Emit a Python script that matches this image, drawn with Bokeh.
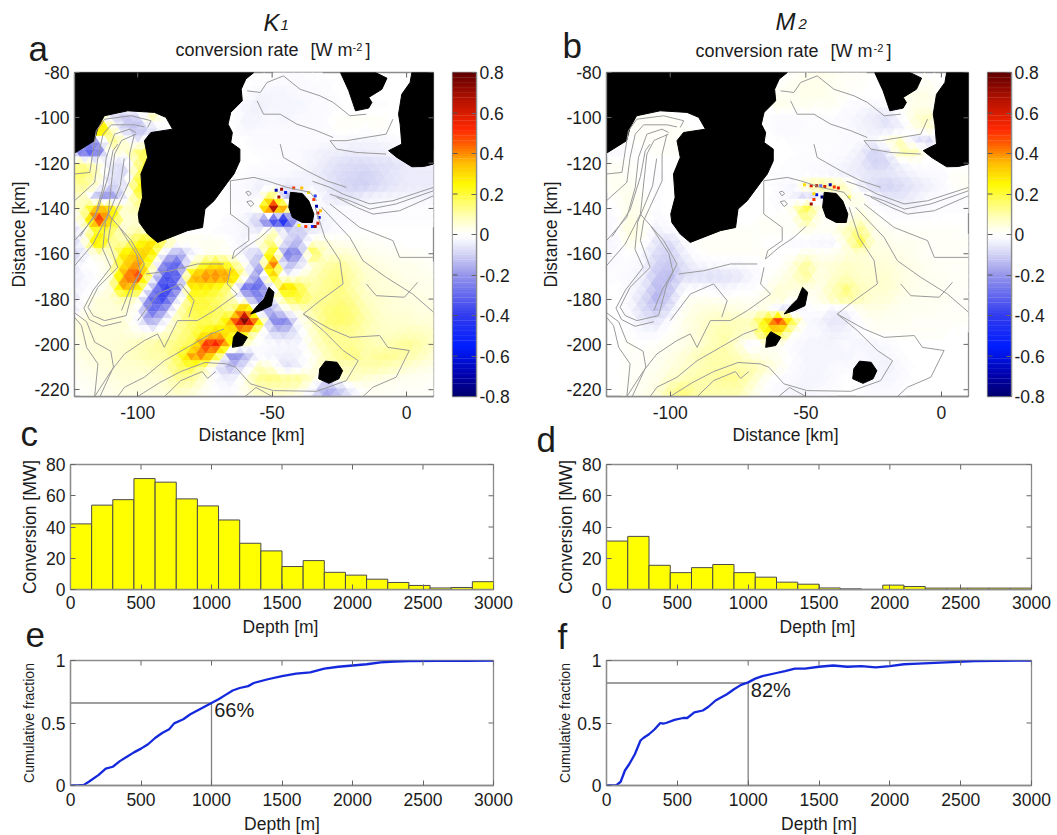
from bokeh.plotting import figure
from bokeh.layouts import column, row
from bokeh.models import ColumnDataSource, Range1d, FixedTicker
from bokeh.core.properties import value
from bokeh.embed import file_html
from bokeh.resources import INLINE
import numpy as np

FONT = "Liberation Sans"
GRAY = "#8c8c8c"
TXT = "#1c1c1c"
BASELINE_SHIFT = 0.35  # the SVG text sits this fraction of its size below the asked baseline

# ---------- histogram data ----------
bin_edges = [0, 150, 300, 450, 600, 750, 900, 1050, 1200, 1350, 1500, 1650, 1800, 1950, 2100, 2250, 2400, 2550, 2700, 2850, 3000]
k1_conv = [42, 54, 57.5, 71, 68.7, 58, 53.5, 44.5, 29.6, 24.7, 14.7, 18.5, 11, 9.2, 6.6, 4.5, 2.6, 1, 1.3, 5]
m2_conv = [31, 34, 15.5, 10.8, 14, 16, 10.8, 7.9, 4.7, 3.4, 1, 0.4, 0, 2.8, 1.9, 0.9, 0.9, 0.9, 0.9, 0.9]

# ---------- cumulative curves ----------
k1_depth = [0, 50, 95, 130, 200, 250, 300, 350, 400, 450, 500, 550, 600, 650, 700, 735, 800, 850, 900, 950, 1000, 1050, 1100, 1150, 1200, 1260, 1300, 1400, 1500, 1600, 1700, 1800, 1900, 2000, 2100, 2200, 2300, 2400, 2600, 2800, 3000]
k1_cum = [0, .001, .005, .03, .085, .135, .15, .195, .23, .265, .295, .33, .38, .42, .45, .497, .53, .57, .60, .63, .66, .69, .725, .76, .78, .795, .82, .85, .875, .895, .905, .935, .95, .96, .97, .985, .992, .996, .997, .998, 1]
m2_depth = [0, 70, 100, 130, 160, 200, 240, 260, 300, 340, 380, 400, 420, 480, 540, 570, 620, 680, 720, 770, 850, 900, 950, 1000, 1050, 1100, 1200, 1260, 1330, 1400, 1500, 1600, 1700, 1800, 1900, 2000, 2100, 2200, 2400, 2600, 3000]
m2_cum = [0, .003, .03, .12, .17, .25, .36, .38, .41, .45, .50, .495, .50, .525, .54, .54, .585, .60, .63, .68, .73, .77, .805, .825, .855, .875, .90, .915, .935, .935, .95, .96, .95, .955, .945, .955, .97, .975, .985, .995, 1]

# ---------- map fields, hundredths of W m-2 on a 5 km grid ----------
grid_x = list(range(-125, 15, 5))
grid_y = list(range(-80, -230, -5))
k1_field = [
[0,0,0,0,0,0,0,0,0,0,0,0,0,0,0,0,-1,-1,-1,0,0,0,0,0,0,0,0,0],
[0,0,0,0,0,0,0,0,0,0,0,0,0,0,-1,-2,-2,-2,-1,-1,0,0,0,0,0,0,0,0],
[0,0,0,0,0,0,0,0,0,0,0,0,0,-1,-3,-3,-3,-2,-2,-1,0,0,0,0,0,0,0,0],
[0,0,0,0,0,0,0,0,0,0,0,0,0,-3,-4,-3,-3,-3,-2,-2,-1,0,-1,-1,0,0,0,0],
[0,0,18,-6,-12,-10,10,0,0,0,0,0,0,-3,-3,-2,-3,-2,-2,-1,1,1,1,1,0,0,0,0],
[0,0,55,10,-10,-14,-10,0,0,0,0,0,0,-3,-2,-2,-2,-2,-2,-1,1,1,0,1,0,0,0,0],
[0,-18,-18,14,5,-6,4,0,0,0,0,0,0,0,-2,-2,-2,-2,-1,-2,-2,-3,-3,-3,-2,0,0,0],
[-6,-32,-30,5,5,14,20,0,0,0,0,0,0,0,-1,-1,-2,-2,-3,-4,-4,-5,-4,-4,-3,0,0,0],
[10,12,6,-5,-8,12,24,0,0,0,0,0,0,0,0,-1,-1,-2,-3,-5,-7,-8,-8,-7,-7,-5,-4,-4],
[14,16,8,-6,-8,15,25,0,0,0,0,0,0,-1,-2,-2,-2,-3,-4,-6,-8,-9,-10,-8,-6,-5,-5,-5],
[10,12,5,-10,-5,22,28,0,0,0,0,0,-1,-2,-4,-3,-5,-4,-3,-5,-8,-10,-10,-8,-6,-5,-5,-5],
[5,8,-16,-22,-5,16,20,0,0,0,0,0,-1,-2,-3,22,-15,-5,2,-4,-6,-6,-4,-3,-3,-3,-3,-3],
[2,10,35,30,5,10,0,0,0,0,0,0,0,-2,2,72,30,0,0,-3,-2,-2,-2,-2,-1,-1,-1,-1],
[-5,10,55,30,5,5,0,0,0,0,0,0,-2,-3,-12,-45,-55,0,-5,-3,-2,-1,-1,-1,-1,-1,-1,-1],
[-10,0,22,16,5,10,6,0,0,0,0,-1,-2,-3,-5,8,-6,-12,-5,-3,-1,0,0,0,0,0,0,0],
[-12,2,35,12,10,22,30,15,3,2,2,2,0,-4,5,15,-8,-14,5,5,2,2,1,1,0,0,0,0],
[-12,-5,5,5,28,32,30,-6,-18,-5,2,2,1,-5,-12,32,-26,-22,20,5,6,5,3,2,2,1,1,0],
[-8,0,0,5,30,40,14,-26,-32,6,24,30,16,2,-18,50,-16,-8,5,10,12,8,5,4,3,3,2,1],
[-5,-3,0,5,40,50,8,-36,-30,36,42,42,40,5,-24,32,-5,5,8,12,14,10,6,5,4,3,3,2],
[-5,-2,0,5,38,28,-12,-42,-26,26,26,22,10,-28,-30,-6,36,20,10,12,14,10,6,5,5,4,3,3],
[-8,0,5,5,10,5,-30,-38,-6,20,20,16,10,-8,-22,-5,15,20,12,12,14,12,7,6,5,4,4,3],
[-8,2,5,5,5,0,-30,-20,8,18,20,16,10,50,-15,-18,0,5,10,14,16,14,9,6,5,5,4,4],
[3,5,5,5,5,-2,-18,-3,10,16,18,15,38,78,30,-22,-26,0,8,14,16,14,10,7,6,6,5,5],
[3,5,5,5,5,3,3,6,12,16,24,34,22,25,2,-8,-10,-4,6,12,12,12,9,7,7,8,8,6],
[2,4,5,5,6,8,10,12,14,18,50,55,22,5,0,-2,-2,-3,5,10,12,12,10,8,10,12,10,7],
[2,4,5,5,6,8,10,10,16,38,42,20,-25,-15,-2,-3,-4,-3,2,8,12,14,10,12,12,10,8,5],
[1,3,4,5,6,6,7,8,16,18,10,-8,-14,-6,8,4,-8,-4,3,8,8,8,10,10,8,6,4,3],
[1,2,3,4,5,5,5,6,12,12,5,-3,-5,4,12,14,12,12,6,-5,5,8,5,4,3,2,2,1],
[0,1,2,3,4,4,4,5,8,6,2,-1,-2,3,8,8,8,6,-2,-18,-12,-3,2,2,1,1,1,1],
[0,1,2,3,3,3,3,3,4,3,1,0,-1,2,4,4,3,-3,-10,-15,-10,-5,1,1,1,1,1,0],
]
m2_field = [
[0,0,0,0,0,0,0,0,0,0,0,0,0,0,0,2,3,2,1,1,0,0,0,0,0,0,0,0],
[0,0,0,0,0,0,0,0,0,0,0,0,0,0,2,3,3,2,1,1,0,0,0,0,2,0,0,0],
[0,0,0,0,0,0,0,0,0,0,0,0,0,2,2,3,3,2,1,0,0,0,2,3,4,0,0,0],
[0,0,0,0,0,0,0,0,0,0,0,0,0,3,2,2,1,2,-1,-2,-3,-2,0,3,3,0,0,0],
[0,0,1,1,1,1,0,0,0,0,0,0,0,-2,-2,-1,-1,-1,-2,-3,-5,-7,-2,5,8,0,0,0],
[0,0,1,1,1,1,1,0,0,0,0,0,0,-2,-2,-1,-1,-1,-2,-3,-4,-6,-4,3,6,0,0,0],
[0,-1,0,1,1,1,1,0,0,0,0,0,0,0,-1,-1,-1,-1,-1,-2,-3,4,8,-6,-9,0,0,0],
[-1,-2,-1,0,1,1,1,0,0,0,0,0,0,0,0,-1,-1,-1,-2,-4,-10,-6,10,10,0,0,0,0],
[1,1,1,0,0,0,0,0,0,0,0,0,0,0,-1,-1,-1,-2,-3,-5,-10,-9,-3,0,0,0,0,0],
[1,2,1,0,-1,0,1,0,0,0,0,0,0,-1,-1,-1,-2,-3,-4,-5,-6,-6,-5,-3,-2,-2,1,1],
[0,2,2,0,-1,0,1,0,0,0,0,0,0,-1,-3,8,14,12,6,-4,-8,-10,-8,-6,-4,-2,1,2],
[0,1,3,1,-1,0,1,0,0,0,0,0,0,-1,-3,-10,-6,0,5,3,-3,-6,-6,-4,-2,-2,-2,-1],
[-2,0,3,2,-1,0,0,0,0,0,0,0,0,-1,3,20,3,0,0,3,0,-2,-3,-3,-2,-1,-1,-1],
[-3,-1,4,2,-2,0,0,0,0,0,0,0,1,1,0,12,2,0,3,6,2,0,0,0,0,0,0,0],
[-3,-1,5,2,-4,-2,0,0,0,1,1,1,1,1,1,3,1,2,8,14,3,2,1,1,1,1,1,0],
[-3,-2,3,1,-6,-8,-2,1,1,1,1,1,0,0,-2,-2,-3,-3,5,20,4,3,2,2,1,1,1,1],
[-3,-2,0,-2,-8,-10,-4,0,1,1,1,1,1,0,0,3,2,2,4,5,4,4,3,2,1,1,1,1],
[-2,-1,-1,-3,-10,-12,-7,-3,-2,-2,-2,-1,0,0,4,12,4,5,7,6,5,5,4,3,2,1,1,1],
[-1,-1,-2,-4,-12,-14,-8,-7,-8,-7,-6,-3,0,2,5,12,3,6,8,6,6,6,4,3,2,2,1,1],
[-1,0,-2,-5,-14,-12,-2,-2,-2,-3,-2,-1,1,5,5,4,3,8,14,8,6,6,4,3,2,2,1,1],
[-1,0,-2,-8,-15,-10,1,2,2,1,2,1,3,6,2,0,3,8,12,8,5,5,3,2,2,2,1,1],
[0,0,-2,-8,-12,-6,2,4,5,5,4,3,4,-6,-8,-2,0,-4,-4,2,4,3,2,2,2,1,1,1],
[0,0,-1,-5,-6,-1,3,5,7,8,8,8,25,55,20,-2,-3,-6,-5,0,2,2,2,1,1,1,1,1],
[0,0,0,-2,-2,1,3,5,8,10,8,6,22,25,3,-2,-2,-4,-3,-2,1,1,1,1,1,1,0,0],
[0,0,1,0,1,2,3,5,8,10,5,-3,2,1,-2,-3,-3,-3,-2,-3,-3,-2,0,0,0,0,0,0],
[0,0,1,1,2,3,5,8,10,10,8,4,3,2,-1,-3,-3,-3,-3,-2,-3,-3,-1,0,0,0,0,0],
[0,0,1,1,2,4,6,8,10,10,10,10,7,3,-1,-3,-3,-2,-2,-1,-2,-4,-2,0,0,0,0,0],
[0,0,1,2,3,6,8,10,10,12,12,8,2,-1,-2,-3,-3,-2,0,-1,-3,-3,-2,0,0,0,0,0],
[0,0,1,2,4,10,14,10,10,10,10,5,0,-2,-3,-3,-2,-1,0,-1,-2,-2,-1,0,0,0,0,0],
[0,0,1,3,6,12,14,10,8,8,8,3,0,-2,-2,-2,-1,0,0,0,-1,-1,-1,0,0,0,0,0],
]

# small-scale dipoles around the island (km, km, W m-2)
k1_spots = [(-48.5,-132,-.7),(-46.5,-131.5,.7),(-45,-133,-.6),(-47.5,-135,.7),(-42,-131,.5),(-39,-131,.35),(-36.5,-133,.3),(-34.5,-136,.5),(-33.5,-139,-.7),(-33,-142,.6),(-32.5,-144,-.6),(-33,-146.5,.6),(-35,-148,-.5),(-37.5,-148,.5),(-40,-147.5,.25),(-34,-148,.7),(-32,-141,.35),(-34,-134.5,-.4)]
m2_spots = [(-50.5,-129.5,.3),(-48,-130,.6),(-46,-130,.7),(-44.5,-130,-.3),(-43,-130.3,.6),(-41,-129.5,-.7),(-39.5,-130.5,.5),(-38,-131,.6),(-46,-134,-.6),(-44,-135,-.8),(-47,-133.5,.3),(-48,-138,.7),(-47,-136,.5),(-42,-135,.3),(-40,-134.5,.3),(-34,-135,.2)]

# ---------- land (km) ----------
land_main = [(-123.5,-80),(-56.8,-80),(-59.8,-82.9),(-61.5,-87.4),(-61.1,-92.5),(-65.4,-97.6),(-66.4,-102.8),(-64.8,-106.5),(-65.4,-110.9),(-62,-113.8),(-62,-119),(-64.2,-124.8),(-66.6,-128.5),(-71.6,-136.6),(-75,-140.3),(-75.9,-148.4),(-81.5,-149.8),(-92.6,-155),(-96.3,-151.3),(-99.4,-146.2),(-99.8,-142.5),(-98.2,-135.1),(-98.8,-124.8),(-96.3,-117.5),(-97.5,-110.1),(-95.1,-106.5),(-87,-105),(-89.5,-99.8),(-93.8,-97.6),(-103.7,-96.9),(-112.4,-99.1),(-114.8,-104.3),(-116.1,-110.1),(-123.5,-115.6)]
land_top = [(-24.6,-80),(-21.5,-88.1),(-19,-96.9),(-14.1,-95.7),(-12.9,-93.2),(-14.1,-91),(-9.2,-87.4),(-7.3,-82.5),(-11.6,-80)]
land_corner = [(1.95,-80),(1.3,-84.4),(-1.8,-89.6),(-3,-98.4),(-2.4,-102.8),(-1.8,-111.6),(-6.7,-114.5),(-3.6,-117.5),(1.95,-121.6),(6.3,-121.5),(10,-120.4),(10,-80)]
island_a = [(-43.2,-132.9),(-38.8,-133.4),(-36.4,-136.6),(-34.5,-142.5),(-35.1,-146.2),(-38.8,-146.2),(-42.5,-143.9),(-43.8,-139.5)]
island_b = [(-51.2,-174.8),(-49.3,-177),(-50.3,-182.9),(-54.3,-185.1),(-58,-186.6),(-55.5,-182.9),(-53,-180)]
island_c = [(-62.9,-194.4),(-59.2,-196.9),(-61.1,-200.5),(-64.8,-201.3),(-64.4,-196.9)]
island_d = [(-30.2,-207.4),(-25.9,-207.9),(-23.8,-211.6),(-25.2,-215.2),(-28.9,-217.2),(-32.7,-215.2),(-32.3,-210.8)]
lands = [land_main, land_top, land_corner, island_a, island_b, island_c, island_d]

# ---------- bathymetry contours (km) ----------
contours = [
[(-123.5,-124.8),(-117.8,-124.1),(-116.6,-114.5),(-115.4,-105.7),(-112.3,-100.6),(-102.4,-99.1),(-95,-101.3),(-96.3,-104.3)],
[(-123.5,-136.6),(-116,-128.5),(-114.8,-117.5),(-112.9,-107.2),(-109.8,-103.1),(-101.2,-103.1),(-97.5,-104)],
[(-123.5,-154.2),(-116,-143.9),(-112.9,-130.7),(-111.7,-117.5),(-108.6,-107.2),(-103,-105),(-100.6,-106.5)],
[(-123.5,-165.3),(-116.6,-155.7),(-111,-142.5),(-108.6,-116),(-106,-110),(-100.6,-107.2)],
[(-121.5,-152.5),(-114.8,-140.7),(-111,-126),(-109.2,-114.5),(-107.4,-111.6)],
[(-101.2,-107.2),(-103,-116),(-103,-127.8),(-109.8,-145.4),(-111,-154.2),(-107.4,-166),(-114.8,-174.8),(-118.5,-183.6),(-116.6,-187.3),(-112.3,-189.5),(-104.3,-187.3)],
[(-105,-118),(-106.5,-130),(-112,-146),(-113,-158),(-110,-166),(-116.5,-176),(-120,-184),(-118,-189),(-113,-192),(-106,-190)],
[(-111,-142.5),(-102.4,-154.2),(-97.5,-164.5),(-101.2,-173.3),(-104.3,-187.3)],
[(-107,-148),(-100.5,-160),(-99,-168),(-103,-176),(-106,-185)],
[(-123.5,-188),(-120.9,-191.7),(-119,-201.3),(-114.8,-208.6),(-116,-223)],
[(-123.5,-186),(-119,-190),(-116,-199),(-110,-203),(-109,-210),(-114,-223)],
[(-116,-223),(-109.8,-211.6),(-104.9,-204.2),(-97.5,-198.3),(-92.6,-195.4),(-90.1,-201.3),(-85.2,-189.5),(-77.8,-189.5),(-71.6,-185.1),(-63,-177.8),(-66.7,-173.3),(-65.4,-166)],
[(-107.4,-223),(-104.9,-218.9),(-97.5,-214.5),(-90.1,-207.2),(-81.5,-201.3),(-72.9,-195.4),(-67.9,-193.2)],
[(-100,-223),(-92,-217),(-84,-212),(-75,-208),(-66.8,-208.6),(-63.6,-210.1)],
[(-90,-223),(-84,-216),(-76,-212),(-74,-215),(-71,-212)],
[(-63.6,-210.1),(-58.1,-217.4),(-49.5,-220.4),(-33.4,-220.7),(-22.4,-216),(-18,-207.2),(-23.6,-202.7),(-31,-193.9),(-38.4,-186.6),(-32.2,-180.7),(-23.6,-173.3),(-24.8,-163),(-30.4,-152.8),(-34,-139.5)],
[(-60,-223),(-56,-219),(-50,-223)],
[(-16.2,-223),(-12.5,-218.9),(-3.9,-214.5),(1,-202.7),(-7,-201.3),(-10,-196.1),(-21.1,-196.9),(-28.5,-193.2),(-38.4,-186.6)],
[(10,-185.8),(2.3,-177.8),(-7.6,-170.4),(-16.2,-163.1),(-21.1,-152.8),(-31.6,-139.5)],
[(-28.5,-138),(-17.4,-148.4),(-5.1,-154.2),(-2.6,-161.6),(10,-161.6)],
[(-15,-173.3),(-11.3,-178.5),(-0.8,-179.2),(4.1,-172.6)],
[(-35,-128),(-28.5,-130.7),(-23.6,-133.7),(-13.7,-138),(-5.1,-136.6),(10,-130.7)],
[(-28.5,-133.7),(-21.1,-136.6),(-13.7,-140.3),(-3.9,-138),(10,-132.2)],
[(-26,-135.1),(-18.6,-139.5),(-12.5,-142.5),(-2.6,-141),(10,-134.4)],
[(-47,-111.6),(-45.8,-117.5),(-37.1,-123.4),(-29.7,-127.8),(-22.4,-130.7)],
[(-28.5,-110.1),(-26,-113.8),(-18.6,-115.3),(-7.6,-116)],
[(-28.5,-110.1),(-22.4,-110.1),(-7.6,-107.2),(-5.1,-100.6)],
[(-59.3,-88.1),(-54.4,-88.8),(-51.9,-84.4),(-45.8,-81.5),(-39.6,-87.4),(-32.2,-90.3),(-27.3,-93.2),(-21.1,-99.1),(-15,-98.4)],
[(-55.6,-92.5),(-53.2,-98.4),(-47,-98.4),(-40.8,-102.8),(-33.4,-105.7),(-27.3,-108.7)],
[(-65.5,-127.8),(-56.8,-126.3),(-51.9,-127.8),(-44.5,-130.7),(-35.9,-132.9),(-33.4,-136.6)],
[(-65.5,-127.8),(-65.5,-142.5),(-58.7,-148.4),(-58.7,-154.2),(-64,-158.6),(-64.9,-162.3),(-59.9,-157.2),(-54.4,-152.8),(-50,-148)],
[(-96.9,-168.9),(-87.6,-167.5),(-77.8,-164.5),(-67.9,-164.5)],
[(-100,-189.5),(-92.6,-177.8),(-84,-173.3),(-79,-180.7),(-81,-188)],
[(-59.8,-132.8),(-58.6,-132.4),(-57.8,-133.5),(-58.8,-134.4),(-59.8,-132.8)],
[(-59.4,-137),(-57.8,-136.6),(-56.8,-138),(-58,-139.2),(-59.4,-137)],
]

# ---------- axes ----------
x_range_km = (-123.5, 10)
y_range_km = (-223, -80)
map_xticks = [-100, -50, 0]
map_yticks = [-80, -100, -120, -140, -160, -180, -200, -220]
cb_ticks = [0.8, 0.6, 0.4, 0.2, 0, -0.2, -0.4, -0.6, -0.8]
cb_labels = ["0.8", "0.6", "0.4", "0.2", "0", "-0.2", "-0.4", "-0.6", "-0.8"]
depth_ticks = [0, 500, 1000, 1500, 2000, 2500, 3000]
conv_ticks = [0, 20, 40, 60, 80]
frac_ticks = [0, 0.5, 1]
frac_labels = ["0", "0.5", "1"]

# colour scale anchors
cmap_v = [-.8, -.7, -.55, -.4, -.2, -.1, -.02, 0, .03, .1, .25, .35, .45, .52, .65, .8]
cmap_r = [0, 0, 0, 50, 150, 210, 250, 255, 255, 255, 255, 255, 255, 255, 190, 95]
cmap_g = [0, 0, 30, 60, 150, 210, 250, 255, 255, 255, 250, 190, 90, 40, 20, 0]
cmap_b = [110, 170, 255, 240, 235, 245, 255, 255, 235, 170, 0, 0, 0, 0, 0, 0]


def col(v):
    return "#%02x%02x%02x" % (int(np.interp(v, cmap_v, cmap_r)), int(np.interp(v, cmap_v, cmap_g)), int(np.interp(v, cmap_v, cmap_b)))


def sample(field, x, y):
    gx = np.clip((x - grid_x[0]) / 5.0, 0, 26.999)
    gy = np.clip((grid_y[0] - y) / 5.0, 0, 28.999)
    i, j = int(gx), int(gy)
    fx, fy = gx - i, gy - j
    a = field[j][i] * (1 - fx) + field[j][i + 1] * fx
    b = field[j + 1][i] * (1 - fx) + field[j + 1][i + 1] * fx
    return (a * (1 - fy) + b * fy) / 100.0


def mesh(field):
    xs, ys, cs = [], [], []
    dx, dy = 3.6, 3.1
    ny = int(146 / dy) + 2
    nx = int(136 / dx) + 3
    for r in range(ny):
        y0, y1 = -80 - r * dy, -80 - (r + 1) * dy
        off = 0 if r % 2 == 0 else dx / 2
        for c in range(-1, nx):
            x0 = -125 + c * dx + off
            tri1 = ([x0, x0 + dx, x0 + dx / 2], [y0, y0, y1])
            tri2 = ([x0 + dx, x0 + dx / 2, x0 + 1.5 * dx], [y0, y1, y1])
            for tx, ty in (tri1, tri2):
                v = sample(field, sum(tx) / 3, sum(ty) / 3)
                if abs(v) < 0.004:
                    continue
                xs.append(tx); ys.append(ty); cs.append(col(v))
    return dict(xs=xs, ys=ys, c=cs)


def style_axis(ax, ticks, overrides=None, standoff=5):
    ax.ticker = FixedTicker(ticks=list(ticks))
    ax.axis_line_color = GRAY
    ax.axis_line_width = 1.3
    ax.major_tick_line_color = "#666666"
    ax.major_tick_in = 5
    ax.major_tick_out = 0
    ax.minor_tick_line_color = None
    ax.major_label_text_font = FONT
    ax.major_label_text_font_size = "17.5px"
    ax.major_label_text_color = TXT
    ax.major_label_standoff = standoff
    ax.axis_label_text_font = FONT
    ax.axis_label_text_font_style = "normal"
    ax.axis_label_text_font_size = "17.5px"
    ax.axis_label_text_color = TXT
    if overrides:
        ax.major_label_overrides = overrides


def mirror_ticks(p, xticks, yticks, w, h):
    # inward ticks on the top and right edges, 5 px long, like the boxed axes
    xs, xe = p.x_range.start, p.x_range.end
    ys, ye = p.y_range.start, p.y_range.end
    dy = 5 * (ye - ys) / h
    dx = 5 * (xe - xs) / w
    if xticks:
        p.segment(x0=xticks, x1=xticks, y0=[ye] * len(xticks), y1=[ye - dy] * len(xticks), line_color="#666666", line_width=1)
    if yticks:
        p.segment(x0=[xe] * len(yticks), x1=[xe - dx] * len(yticks), y0=yticks, y1=yticks, line_color="#666666", line_width=1)


def base(w, h, l, r, t, b, xr, yr, **kw):
    p = figure(frame_width=w, frame_height=h, min_border_left=l, min_border_right=r, min_border_top=t,
               min_border_bottom=b, x_range=Range1d(*xr), y_range=Range1d(*yr), output_backend="svg",
               toolbar_location=None, **kw)
    p.grid.visible = False
    p.outline_line_color = GRAY
    p.outline_line_width = 1.3
    p.background_fill_color = "white"
    p.border_fill_color = None
    return p


def map_panel(field, spots, w, l):
    p = base(w, 324, l, 2, 10, 30, x_range_km, y_range_km)
    p.patches("xs", "ys", source=ColumnDataSource(mesh(field)), fill_color="c", line_color="c", line_width=0.4)
    p.scatter([s[0] for s in spots], [s[1] for s in spots], marker="square", size=3,
              fill_color=[col(s[2]) for s in spots], line_color=None)
    p.patches([[q[0] for q in poly] for poly in lands], [[q[1] for q in poly] for poly in lands],
              fill_color="black", line_color="black", line_width=1)
    p.multi_line([[q[0] for q in c] for c in contours], [[q[1] for q in c] for c in contours],
                 line_color="#9a9a9a", line_width=1)
    style_axis(p.xaxis[0], map_xticks, {v: str(v) for v in map_xticks}, standoff=9)
    style_axis(p.yaxis[0], map_yticks, {v: str(v) for v in map_yticks}, standoff=5)
    p.yaxis[0].axis_label = "Distance [km]"
    p.yaxis[0].axis_label_standoff = 2
    mirror_ticks(p, map_xticks, map_yticks, w, 324)
    return p


def colorbar(r):
    levels = np.linspace(-0.8, 0.8, 129)
    p = base(24, 324, 17, r, 10, 30, (0, 1), (-0.8, 0.8), x_axis_location=None, y_axis_location="right")
    p.quad(left=0, right=1, bottom=levels[:-1], top=levels[1:] + 0.002,
           fill_color=[col((a + b) / 2) for a, b in zip(levels[:-1], levels[1:])], line_color=None)
    style_axis(p.yaxis[0], cb_ticks, dict(zip(cb_ticks, cb_labels)), standoff=3)
    dx = 5 / 24
    p.segment(x0=[0] * len(cb_ticks), x1=[dx] * len(cb_ticks), y0=cb_ticks, y1=cb_ticks, line_color="#555555", line_width=1)
    return p


def hist_panel(vals, w, l, r, t, b):
    p = base(w, 125, l, r, t, b, (0, 3000), (0, 80))
    edges = np.array(bin_edges, dtype=float)
    p.vbar(x=(edges[:-1] + edges[1:]) / 2, width=np.diff(edges), top=vals, bottom=0,
           fill_color="#ffff00", line_color="#4a4a4a", line_width=1)
    style_axis(p.xaxis[0], depth_ticks, standoff=6)
    style_axis(p.yaxis[0], conv_ticks, standoff=5)
    p.yaxis[0].axis_label = "Conversion [MW]"
    p.yaxis[0].axis_label_standoff = 3
    mirror_ticks(p, depth_ticks, conv_ticks, w, 125)
    return p


def cum_panel(dep, cum, level, pct, w, l, r, t, b):
    p = base(w, 125, l, r, t, b, (0, 3000), (0, 1))
    p.line([0, 1000, 1000], [level, level, 0], line_color="#808080", line_width=1.3)
    p.line(dep, cum, line_color="#1428dc", line_width=2.3)
    p.text([1019], [level - 0.11 + BASELINE_SHIFT * 20 / 125], text=[pct], text_font=value(FONT), text_font_size="20px",
           text_color=TXT, text_baseline="alphabetic")
    style_axis(p.xaxis[0], depth_ticks, standoff=7)
    style_axis(p.yaxis[0], frac_ticks, dict(zip(frac_ticks, frac_labels)), standoff=5)
    p.xaxis[0].axis_label = "Depth [m]"
    p.yaxis[0].axis_label = "Cumulative fraction"
    p.yaxis[0].axis_label_text_font_size = "14px"
    p.xaxis[0].axis_label_standoff = 5
    p.yaxis[0].axis_label_standoff = 1
    mirror_ticks(p, depth_ticks, frac_ticks, w, 125)
    return p


def strip(top, h, over_top, over_bottom, items):
    # transparent band of page-wide text, x and y in page pixels; it overlaps its neighbours
    W = 1052
    p = figure(frame_width=W, frame_height=h + over_top + over_bottom, min_border=0,
               x_range=Range1d(0, W), y_range=Range1d(top + h + over_bottom, top - over_top),
               output_backend="svg", toolbar_location=None, x_axis_location=None, y_axis_location=None,
               margin=(-over_top, 0, -over_bottom, 0))
    p.grid.visible = False
    p.outline_line_color = None
    p.background_fill_color = None
    p.border_fill_color = None
    for x, y, t, size, style, align in items:
        p.text([x], [y - BASELINE_SHIFT * float(size[:-2])], text=[t], text_font=value(FONT), text_font_size=size,
               text_font_style=style, text_color=TXT, text_baseline="alphabetic", text_align=align)
    return p


title_items = [
    (263, 30, "K", "24px", "italic", "left"), (280, 30, "1", "15px", "italic", "left"),
    (775, 29, "M", "24px", "italic", "left"), (798, 29, "2", "15px", "italic", "left"),
    (175, 56, "conversion rate", "18px", "normal", "left"), (310, 56, "[W m", "18px", "normal", "left"),
    (352, 50, "-2", "11px", "normal", "left"), (365, 56, "]", "18px", "normal", "left"),
    (695, 57, "conversion rate", "18px", "normal", "left"), (830, 57, "[W m", "18px", "normal", "left"),
    (873, 51, "-2", "11px", "normal", "left"), (886, 57, "]", "18px", "normal", "left"),
    (28, 60, "a", "35px", "normal", "left"), (562, 57, "b", "35px", "normal", "left"),
]
mid1_items = [
    (251, 441, "Distance [km]", "17.5px", "normal", "center"), (785, 441, "Distance [km]", "17.5px", "normal", "center"),
    (20, 445, "c", "35px", "normal", "left"), (536, 451, "d", "35px", "normal", "left"),
]
mid2_items = [
    (280, 633, "Depth [m]", "17.5px", "normal", "center"), (817, 633, "Depth [m]", "17.5px", "normal", "center"),
    (25, 647, "e", "35px", "normal", "left"), (557, 648, "f", "35px", "normal", "left"),
]

pa = map_panel(k1_field, k1_spots, 359, 74)
pb = map_panel(m2_field, m2_spots, 362, 76)
ca = colorbar(54)
cb = colorbar(41)
pc = hist_panel(k1_conv, 423, 70, 37, 7, 25)
pd = hist_panel(m2_conv, 425, 76, 21, 8, 24)
pe = cum_panel(k1_depth, k1_cum, 0.66, "66%", 423, 70, 37, 7, 50)
pf = cum_panel(m2_depth, m2_cum, 0.82, "82%", 425, 76, 21, 8, 49)

layout = column(strip(0, 62, 0, 10, title_items), row(pa, ca, pb, cb), strip(426, 30, 16, 8, mid1_items), row(pc, pd),
                strip(613, 39, 2, 8, mid2_items), row(pe, pf), spacing=0)
open("out.html", "w").write(file_html(layout, INLINE))
